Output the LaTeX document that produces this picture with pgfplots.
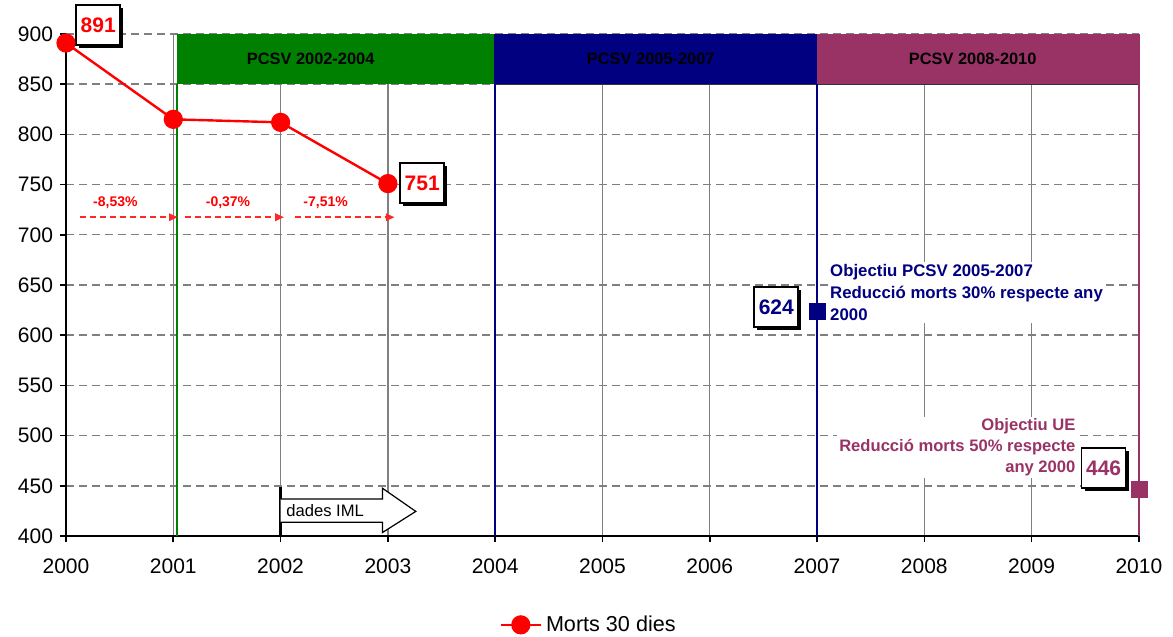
\documentclass[border=0pt]{standalone}
\usepackage{pgfplots}
\pgfplotsset{compat=1.18}
\usepackage{fontspec}
\setmainfont{Liberation Sans}
\usetikzlibrary{shadows,arrows.meta}
\definecolor{pcsvgreen}{RGB}{0,128,0}
\definecolor{pcsvnavy}{RGB}{0,0,128}
\definecolor{pcsvplum}{RGB}{153,51,102}
\definecolor{gridgray}{RGB}{128,128,128}
\definecolor{pctred}{RGB}{255,40,40}

\begin{document}
\begin{tikzpicture}[
  valbox/.style={draw=black, line width=0.9pt, fill=white, minimum width=22pt,
    minimum height=20pt, inner sep=1pt, font=\bfseries\fontsize{10.5}{12}\selectfont,
    general shadow={fill=black, shadow xshift=1.5pt, shadow yshift=-1.5pt}},
  pct/.style={red, font=\bfseries\fontsize{7}{8}\selectfont},
]
\begin{axis}[
  scale only axis, width=536.5pt, height=251pt,
  xmin=2000, xmax=2010, ymin=400, ymax=900,
  xtick={2000,...,2010}, ytick={400,450,...,900},
  /pgf/number format/1000 sep={},
  /pgf/number format/assume math mode=true,
  tick label style={font=\fontsize{10.5}{12}\selectfont},
  xticklabel style={yshift=-5pt},
  axis x line=bottom, axis y line=left,
  axis line style={-, black, line width=0.8pt},
  tick align=outside, major tick length=3pt,
  tick style={black, line width=0.8pt},
  xmajorgrids, ymajorgrids,
  x grid style={gridgray, line width=0.7pt},
  y grid style={gridgray, line width=0.7pt, dash pattern=on 4pt off 2.5pt},
  clip=false,
  legend style={at={(0.488,-0.177)}, anchor=center, draw=none, fill=none,
    font=\fontsize{10.8}{13}\selectfont},
  legend image code/.code={\draw[mark repeat=2,mark phase=2,#1]
    plot coordinates {(0pt,0pt) (10pt,0pt) (20pt,0pt)};},
]
% programme periods as coloured bands along the top
\fill[pcsvgreen] (axis cs:2001.03,850) rectangle (axis cs:2004,900);
\fill[pcsvnavy] (axis cs:2004,850) rectangle (axis cs:2007,900);
\fill[pcsvplum] (axis cs:2007,850) rectangle (axis cs:2010,900);
\draw[black!80, line width=0.6pt] (axis cs:2004,850) -- (axis cs:2010,850);
\node[font=\bfseries\fontsize{8.2}{10}\selectfont] at (axis cs:2002.28,875) {PCSV 2002-2004};
\node[font=\bfseries\fontsize{8.2}{10}\selectfont] at (axis cs:2005.45,875) {PCSV 2005-2007};
\node[font=\bfseries\fontsize{8.2}{10}\selectfont] at (axis cs:2008.45,875) {PCSV 2008-2010};

% period boundaries
\draw[pcsvgreen, line width=1pt] (axis cs:2001.03,400) -- (axis cs:2001.03,850);
\draw[pcsvnavy, line width=1pt] (axis cs:2004,400) -- (axis cs:2004,900);
\draw[pcsvnavy, line width=1pt] (axis cs:2007,400) -- (axis cs:2007,850);
\draw[pcsvplum, line width=1.4pt] (axis cs:2010,400) -- (axis cs:2010,900);

% year-on-year changes
\foreach \a/\b in {2000.13/2001.04, 2001.11/2002.03, 2002.13/2003.06}{
  \edef\tmp{\noexpand\draw[color=pctred, line width=0.8pt, densely dashed]
    (axis cs:\a,717.5) -- (axis cs:\b-0.07,717.5);
    \noexpand\fill[color=pctred] (axis cs:\b-0.08,721.5) -- (axis cs:\b,717.5)
    -- (axis cs:\b-0.08,713.5) -- cycle;}
  \tmp
}
\node[pct] at (axis cs:2000.46,732) {-8,53\%};
\node[pct] at (axis cs:2001.51,732) {-0,37\%};
\node[pct] at (axis cs:2002.42,732) {-7,51\%};

% IML data arrow
\draw[black, line width=1.5pt] (axis cs:2002,400) -- (axis cs:2002,449);
\draw[black, fill=white, line width=0.6pt]
  (axis cs:2002,413.7) -- (axis cs:2002.95,413.7) -- (axis cs:2002.95,403.5)
  -- (axis cs:2003.26,424.5) -- (axis cs:2002.95,447.5) -- (axis cs:2002.95,436.9)
  -- (axis cs:2002,436.9);
\node[anchor=west, font=\fontsize{8.3}{10}\selectfont, inner sep=0pt]
  at (axis cs:2002.05,425) {dades IML};

% targets
\node[anchor=north west, align=left, text=pcsvnavy, fill=white, inner sep=1pt,
  font=\bfseries\fontsize{8.4}{11}\selectfont] at (axis cs:2007.1,673)
  {Objectiu PCSV 2005-2007\\Reducció morts 30\% respecte any\\2000};
\node[anchor=north east, align=right, text=pcsvplum, fill=white, inner sep=1pt,
  font=\bfseries\fontsize{8.3}{10.5}\selectfont] at (axis cs:2009.43,519)
  {Objectiu UE\\Reducció morts 50\% respecte\\any 2000};

\addplot[red, line width=1.2pt, mark=*, mark size=4.2pt,
  mark options={solid, fill=red}]
  coordinates {(2000,891) (2001,815) (2002,812) (2003,751)};
\addlegendentry{Morts 30 dies}
\addplot[forget plot, only marks, mark=square*, mark size=4pt, pcsvnavy]
  coordinates {(2007,624)};
\addplot[forget plot, only marks, mark=square*, mark size=4pt, pcsvplum]
  coordinates {(2010,446)};

% value labels
\node[valbox, text=red] at (axis cs:2000.30,909) {891};
\node[valbox, text=red] at (axis cs:2003.32,751.6) {751};
\node[valbox, text=pcsvnavy] at (axis cs:2006.62,628) {624};
\node[valbox, text=pcsvplum] at (axis cs:2009.67,467.7) {446};
\end{axis}
\pgfresetboundingbox
\path (-33pt,-50.5pt) rectangle (553.5pt,268pt);
\end{tikzpicture}
\end{document}
